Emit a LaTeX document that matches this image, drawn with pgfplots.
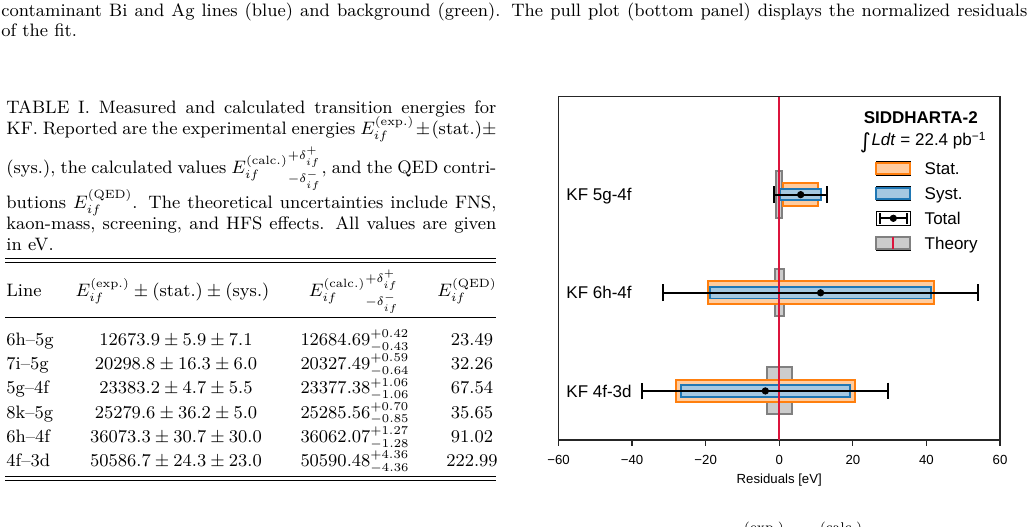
\documentclass[border=0pt]{standalone}
\usepackage{fontspec}
\usepackage{pgfplots}
\pgfplotsset{compat=1.18}
\newfontfamily\arial{Liberation Sans}
\newfontfamily\dejavu{DejaVu Sans}
\definecolor{stfill}{HTML}{FFCC9F}
\definecolor{stedge}{HTML}{FF7F0E}
\definecolor{syfill}{HTML}{A5C8E1}
\definecolor{syedge}{HTML}{1F77B4}
\definecolor{thfill}{HTML}{CCCCCC}
\definecolor{thedge}{HTML}{808080}
\definecolor{crim}{HTML}{DC143C}
\newcommand\chartfont{\arial\fontsize{8.5}{10}\selectfont}
\newcommand\tickfont{\arial\fontsize{6.6}{8}\selectfont}
\begin{document}
\begin{tikzpicture}
\path[use as bounding box] (0pt,0pt) rectangle (513.5pt,-263pt);
\begin{scope}[x=0.5pt,y=-0.5pt]
% ---- top text (end of previous caption)
\node[anchor=base west, inner sep=0pt, font=\small] at (1,16) {\makebox[513pt][s]{contaminant Bi and Ag lines (blue) and background (green). The pull plot (bottom panel) displays the normalized residuals}};
\node[anchor=base west, inner sep=0pt, font=\small] at (1,36) {of the fit.};
% ---- table caption
\node[anchor=base west, inner sep=0pt, font=\small] at (6,113.5) {\makebox[245pt][s]{TABLE I. Measured and calculated transition energies for}};
\node[anchor=base west, inner sep=0pt, font=\small] at (6,134.5) {\makebox[245pt][s]{KF. Reported are the experimental energies $E_{if}^{(\mathrm{exp.})}\pm(\mathrm{stat.})\pm$}};
\node[anchor=base west, inner sep=0pt, font=\small] at (6,173.5) {\makebox[245pt][s]{(sys.), the calculated values $E_{if}^{(\mathrm{calc.})}{}^{+\delta_{if}^{+}}_{-\delta_{if}^{-}}$, and the QED contri-}};
\node[anchor=base west, inner sep=0pt, font=\small] at (6,208) {\makebox[245pt][s]{butions $E_{if}^{(\mathrm{QED})}$. The theoretical uncertainties include FNS,}};
\node[anchor=base west, inner sep=0pt, font=\small] at (6,229) {\makebox[245pt][s]{kaon-mass, screening, and HFS effects. All values are given}};
\node[anchor=base west, inner sep=0pt, font=\small] at (6,250) {in eV.};
% ---- table rules
\draw[line width=0.5pt] (5,258) -- (496,258);
\draw[line width=0.5pt] (5,262) -- (496,262);
\draw[line width=0.5pt] (5,317) -- (496,317);
\draw[line width=0.5pt] (5,476) -- (496,476);
\draw[line width=0.5pt] (5,480) -- (496,480);
% ---- table header
\node[anchor=base west, inner sep=0pt, font=\small] at (6,296.5) {Line};
\node[anchor=base, inner sep=0pt, font=\small] at (172.5,296.5) {$E_{if}^{(\mathrm{exp.})}\pm(\mathrm{stat.})\pm(\mathrm{sys.})$};
\node[anchor=base, inner sep=0pt, font=\small] at (354,296.5) {$E_{if}^{(\mathrm{calc.})}{}^{+\delta_{if}^{+}}_{-\delta_{if}^{-}}$};
\node[anchor=base, inner sep=0pt, font=\small] at (467,296.5) {$E_{if}^{(\mathrm{QED})}$};
% ---- table rows
\foreach \yy/\ln/\ex/\ca/\qe in {
  345.5/6h--5g/{12673.9\pm5.9\pm7.1}/{12684.69^{+0.42}_{-0.43}}/23.49,
  369.7/7i--5g/{20298.8\pm16.3\pm6.0}/{20327.49^{+0.59}_{-0.64}}/32.26,
  393.9/5g--4f/{23383.2\pm4.7\pm5.5}/{23377.38^{+1.06}_{-1.06}}/67.54,
  418.1/8k--5g/{25279.6\pm36.2\pm5.0}/{25285.56^{+0.70}_{-0.85}}/35.65,
  442.3/6h--4f/{36073.3\pm30.7\pm30.0}/{36062.07^{+1.27}_{-1.28}}/91.02,
  466.5/4f--3d/{50586.7\pm24.3\pm23.0}/{50590.48^{+4.36}_{-4.36}}/222.99}{
  \node[anchor=base west, inner sep=0pt, font=\small] at (6,\yy) {\ln};
  \node[anchor=base, inner sep=0pt, font=\small] at (176,\yy) {$\ex$};
  \node[anchor=base, inner sep=0pt, font=\small] at (355,\yy) {$\ca$};
  \node[anchor=base, inner sep=0pt, font=\small] at (472,\yy) {$\qe$};
}
% ---- cut-off text at the bottom edge (next caption)
\node[anchor=base, inner sep=0pt, font=\fontsize{6.3}{7}\selectfont] at (764,531) {(exp.)};
\node[anchor=base, inner sep=0pt, font=\fontsize{6.3}{7}\selectfont] at (841,531) {(calc.)};
\end{scope}

\begin{axis}[
  at={(279.25pt,-220pt)}, anchor=south west,
  scale only axis, width=220.75pt, height=171.75pt,
  xmin=-60, xmax=60, ymin=-0.5, ymax=3,
  xtick={-60,-40,-20,0,20,40,60},
  xticklabels={−60,−40,−20,0,20,40,60},
  ytick=\empty,
  axis line style={black!85, line width=0.6pt},
  tick style={black!85, line width=0.6pt},
  tick align=outside, xtick pos=left,
  major tick length=2.8pt,
  xticklabel style={font=\tickfont, inner sep=0pt, yshift=-4.4pt},
  xlabel={Residuals [eV]},
  xlabel style={font=\tickfont, at={(axis description cs:0.5,0)}, anchor=center, yshift=-20pt},
  legend style={draw=none, fill=none, at={(0.7176,0.8114)}, anchor=north west,
    inner sep=0pt, outer sep=0pt, row sep=5pt, column sep=6.7pt, font=\chartfont,
    nodes={inner sep=0pt, text height=6.1pt, text depth=0pt}},
  legend cell align=left,
]
% theory boxes
\addplot[forget plot, draw=thedge, fill=thfill, line width=1pt] coordinates {(-0.85,1.76) (0.85,1.76) (0.85,2.24) (-0.85,2.24)} -- cycle;
\addplot[forget plot, draw=thedge, fill=thfill, line width=1pt] coordinates {(-1.2,0.76) (1.2,0.76) (1.2,1.24) (-1.2,1.24)} -- cycle;
\addplot[forget plot, draw=thedge, fill=thfill, line width=1pt] coordinates {(-3.45,-0.24) (3.45,-0.24) (3.45,0.24) (-3.45,0.24)} -- cycle;
% stat boxes
\addplot[forget plot, draw=stedge, fill=stfill, line width=1pt] coordinates {(1.12,1.884) (10.52,1.884) (10.52,2.116) (1.12,2.116)} -- cycle;
\addplot[forget plot, draw=stedge, fill=stfill, line width=1pt] coordinates {(-19.47,0.884) (41.93,0.884) (41.93,1.116) (-19.47,1.116)} -- cycle;
\addplot[forget plot, draw=stedge, fill=stfill, line width=1pt] coordinates {(-28.08,-0.116) (20.52,-0.116) (20.52,0.116) (-28.08,0.116)} -- cycle;
% syst boxes
\addplot[forget plot, draw=syedge, fill=syfill, line width=0.9pt] coordinates {(0.32,1.942) (11.32,1.942) (11.32,2.058) (0.32,2.058)} -- cycle;
\addplot[forget plot, draw=syedge, fill=syfill, line width=0.9pt] coordinates {(-18.77,0.942) (41.23,0.942) (41.23,1.058) (-18.77,1.058)} -- cycle;
\addplot[forget plot, draw=syedge, fill=syfill, line width=0.9pt] coordinates {(-26.78,-0.058) (19.22,-0.058) (19.22,0.058) (-26.78,0.058)} -- cycle;
% zero line
\addplot[forget plot, crim, line width=1pt] coordinates {(0,-0.5) (0,3)};
% total error bars
\addplot[forget plot, black, only marks, mark=*, mark size=1.6pt, mark options={fill=black, draw=black},
  error bars/.cd, x dir=both, x explicit,
  error bar style={line width=1pt, black},
  error mark=|,
  error mark options={line width=1pt, mark size=4.2pt, black}]
  coordinates {(5.82,2) +- (7.23,0) (11.23,1) +- (42.92,0) (-3.78,0) +- (33.46,0)};
% labels
\node[anchor=west, inner sep=0pt, text height=6.1pt, text depth=0pt, font=\chartfont] at (axis cs:-57.96,2) {KF 5g-4f};
\node[anchor=west, inner sep=0pt, text height=6.1pt, text depth=0pt, font=\chartfont] at (axis cs:-57.96,1) {KF 6h-4f};
\node[anchor=west, inner sep=0pt, text height=6.1pt, text depth=0pt, font=\chartfont] at (axis cs:-57.96,0) {KF 4f-3d};
% legend title
\node[inner sep=0pt, text height=6.1pt, text depth=0pt, font=\arial\bfseries\fontsize{8.5}{10}\selectfont] at (rel axis cs:0.8206,0.9394) {SIDDHARTA-2};
\node[anchor=base, inner sep=0pt, font=\chartfont] at (rel axis cs:0.826,0.8568) {\raisebox{-1.6pt}{\dejavu\fontsize{10.5}{11}\selectfont ∫}\kern0.3pt\textit{Ldt} = 22.4 pb\textsuperscript{−1}};
% legend
\addlegendimage{legend image code/.code={\path (0pt,-3.5pt) rectangle (17pt,3.5pt); \draw[stedge, fill=stfill, line width=1pt] (0pt,-2.85pt) rectangle (17pt,2.85pt);}}
\addlegendentry{Stat.}
\addlegendimage{legend image code/.code={\path (0pt,-3.5pt) rectangle (17pt,3.5pt); \draw[syedge, fill=syfill, line width=1pt] (0pt,-2.85pt) rectangle (17pt,2.85pt);}}
\addlegendentry{Syst.}
\addlegendimage{legend image code/.code={\path (0pt,-3.5pt) rectangle (17pt,3.5pt); \draw[black, line width=1pt] (1.7pt,0pt) -- (15.3pt,0pt); \draw[black, line width=1pt] (1.7pt,-2.75pt) -- (1.7pt,2.75pt); \draw[black, line width=1pt] (15.3pt,-2.75pt) -- (15.3pt,2.75pt); \fill[black] (8.5pt,0pt) circle (1.6pt);}}
\addlegendentry{Total}
\addlegendimage{legend image code/.code={\path (0pt,-3.5pt) rectangle (17pt,3.5pt); \draw[thedge, fill=thfill, line width=1pt] (0pt,-2.85pt) rectangle (17pt,2.85pt); \draw[crim, line width=1pt] (8.5pt,-2.85pt) -- (8.5pt,2.85pt);}}
\addlegendentry{Theory}
\end{axis}
\end{tikzpicture}
\end{document}
